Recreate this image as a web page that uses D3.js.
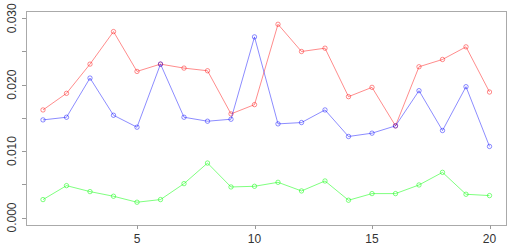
<!DOCTYPE html>
<html>
<head>
<meta charset="utf-8">
<script src="https://cdn.jsdelivr.net/npm/d3@7"></script>
<style>
  body { margin: 0; background: #fff; }
  svg text { font-family: "Liberation Sans", Arial, sans-serif; font-size: 12px; fill: #333; }
</style>
</head>
<body>
<div id="chart"></div>
<script>
"use strict";

// values
const index = d3.range(1, 21);
const redValues = [0.0162, 0.0187, 0.0231, 0.0280, 0.0220, 0.0231, 0.0225, 0.0221, 0.0156, 0.0170,
                   0.0291, 0.0250, 0.0255, 0.0182, 0.0196, 0.0138, 0.0227, 0.0238, 0.0257, 0.0189];
const blueValues = [0.0147, 0.0151, 0.0210, 0.0154, 0.0136, 0.0231, 0.0151, 0.0145, 0.0148, 0.0272,
                    0.0141, 0.0143, 0.0162, 0.0122, 0.0127, 0.0138, 0.0191, 0.0131, 0.0197, 0.0107];
const greenValues = [0.0027, 0.0048, 0.0039, 0.0032, 0.0023, 0.0027, 0.0051, 0.0082, 0.0046, 0.0047,
                     0.0053, 0.0040, 0.0055, 0.0026, 0.0036, 0.0036, 0.0049, 0.0068, 0.0035, 0.0033];
const xTicks = [5, 10, 15, 20];
const yTicks = [0, 0.005, 0.010, 0.015, 0.020, 0.025, 0.030];
const yLabels = [0, 0.010, 0.020, 0.030];

const series = [
    {values: redValues, color: "rgba(255,0,0,0.45)"},
    {values: blueValues, color: "rgba(0,0,255,0.45)"},
    {values: greenValues, color: "rgba(0,255,0,0.5)"}
];

const width = 512, height = 247;
const box = {left: 26, top: 11, right: 506, bottom: 225};

const x = d3.scaleLinear().domain([1, 20]).range([43, 489.5]);
const y = d3.scaleLinear().domain([0, 0.030]).range([217.5, 18.3]);

const svg = d3.select("#chart").append("svg")
    .attr("width", width)
    .attr("height", height);

// plot frame
svg.append("rect")
    .attr("x", box.left + 0.5)
    .attr("y", box.top + 0.5)
    .attr("width", box.right - box.left)
    .attr("height", box.bottom - box.top)
    .attr("fill", "none")
    .attr("stroke", "#aaa")
    .attr("stroke-width", 1);

// y axis ticks
svg.selectAll(".ytick").data(yTicks).enter().append("line")
    .attr("x1", box.left - 4).attr("x2", box.left)
    .attr("y1", (d) => Math.round(y(d)) + 0.5)
    .attr("y2", (d) => Math.round(y(d)) + 0.5)
    .attr("stroke", "#999");

svg.selectAll(".ylab").data(yLabels).enter().append("text")
    .attr("transform", (d) => "translate(" + [16, y(d)] + ")rotate(-90)")
    .attr("text-anchor", "middle")
    .text((d) => d3.format(".3f")(d));

// x axis ticks
svg.selectAll(".xtick").data(xTicks).enter().append("line")
    .attr("x1", (d) => Math.round(x(d)) + 0.5)
    .attr("x2", (d) => Math.round(x(d)) + 0.5)
    .attr("y1", box.bottom + 0.5).attr("y2", box.bottom + 4)
    .attr("stroke", "#999");

svg.selectAll(".xlab").data(xTicks).enter().append("text")
    .attr("x", (d) => x(d))
    .attr("y", 243)
    .attr("text-anchor", "middle")
    .text((d) => d);

const line = d3.line()
    .x((d, i) => x(index[i]))
    .y((d) => y(d));

series.forEach((s) => {
    const g = svg.append("g");
    g.append("path")
        .datum(s.values)
        .attr("d", line)
        .attr("fill", "none")
        .attr("stroke", s.color)
        .attr("stroke-width", 1);
    g.selectAll("circle").data(s.values).enter().append("circle")
        .attr("cx", (d, i) => x(index[i]))
        .attr("cy", (d) => y(d))
        .attr("r", 2.2)
        .attr("fill", "none")
        .attr("stroke", s.color)
        .attr("stroke-width", 1);
});
</script>
</body>
</html>
